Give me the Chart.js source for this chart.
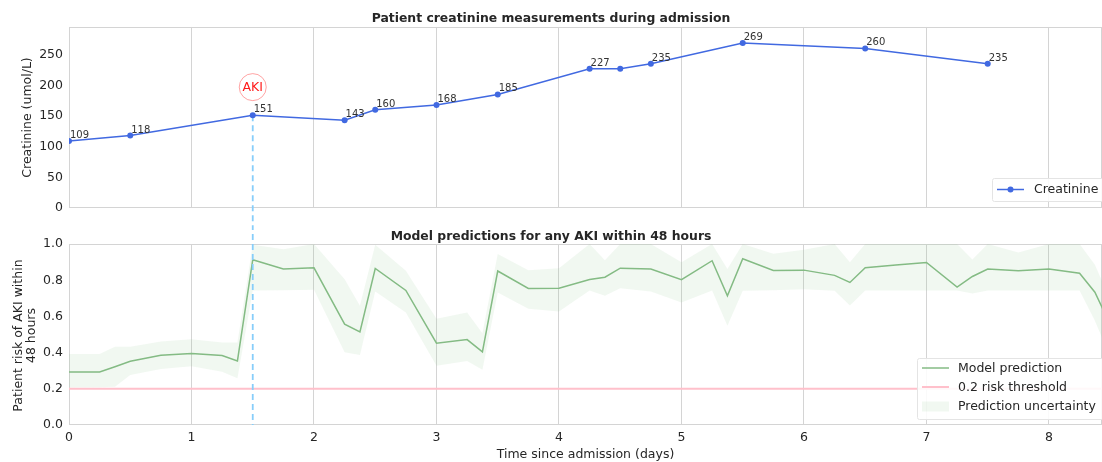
<!DOCTYPE html>
<html>
<head>
<meta charset="utf-8">
<title>Creatinine and AKI risk</title>
<script src="https://cdn.jsdelivr.net/npm/chart.js@4.4.1/dist/chart.umd.min.js"></script>
<style>
  html, body { margin: 0; padding: 0; background: #fff; }
  #wrap { position: relative; width: 1102px; height: 462px; overflow: hidden; }
  #top { position: absolute; left: 0; top: 0; }
  #bottom { position: absolute; left: 0; top: 226px; }
</style>
</head>
<body>
<div id="wrap">
  <canvas id="top" width="1102" height="226"></canvas>
  <canvas id="bottom" width="1102" height="236"></canvas>
</div>
<script>
// creatinine measurements, days since admission -> umol/L
const creatDays = [0, 0.5, 1.5, 2.25, 2.5, 3, 3.5, 4.25, 4.5, 4.75, 5.5, 6.5, 7.5];
const creatValues = [109, 118, 151, 143, 160, 168, 185, 227, 227, 235, 269, 260, 235];
const creatTicks = [0, 50, 100, 150, 200, 250];
const creatMax = 295;

// AKI onset marker
const akiDay = 1.5;
const akiValue = 151;
const akiLabelValue = 197;

// model output, every 3 hours
const predDays = [0, 0.25, 0.375, 0.5, 0.75, 1, 1.25, 1.375, 1.5, 1.75, 2, 2.25, 2.375, 2.5, 2.75, 3, 3.25, 3.375,
  3.5, 3.75, 4, 4.25, 4.375, 4.5, 4.75, 5, 5.25, 5.375, 5.5, 5.75, 6, 6.25, 6.375, 6.5, 6.75, 7, 7.25, 7.375,
  7.5, 7.75, 8, 8.25, 8.375, 8.5];
const predValues = [0.293, 0.293, 0.322, 0.352, 0.386, 0.395, 0.384, 0.354, 0.913, 0.862, 0.869, 0.557, 0.515, 0.865,
  0.744, 0.452, 0.472, 0.404, 0.851, 0.755, 0.756, 0.804, 0.817, 0.867, 0.862, 0.803, 0.908, 0.714, 0.919, 0.854,
  0.856, 0.827, 0.788, 0.869, 0.884, 0.898, 0.762, 0.821, 0.862, 0.852, 0.862, 0.839, 0.734, 0.555];
const predUpper = [0.393, 0.393, 0.432, 0.432, 0.461, 0.474, 0.456, 0.456, 0.996, 0.972, 1.0, 0.806, 0.659, 0.996,
  0.852, 0.587, 0.622, 0.507, 0.945, 0.856, 0.867, 1.0, 0.91, 1.0, 1.0, 0.90, 1.0, 0.862, 1.0, 0.946, 0.969, 1.0,
  0.90, 1.0, 1.0, 1.0, 1.0, 0.915, 1.0, 0.954, 1.0, 1.0, 0.886, 0.692];
const predLower = [0.207, 0.208, 0.212, 0.277, 0.310, 0.325, 0.295, 0.258, 0.744, 0.745, 0.747, 0.402, 0.387, 0.738,
  0.622, 0.327, 0.354, 0.306, 0.732, 0.642, 0.627, 0.744, 0.714, 0.756, 0.738, 0.677, 0.744, 0.548, 0.742, 0.745,
  0.751, 0.742, 0.66, 0.744, 0.744, 0.744, 0.744, 0.727, 0.744, 0.744, 0.744, 0.744, 0.576, 0.377];
const riskThreshold = 0.2;
const riskTicks = [0, 0.2, 0.4, 0.6, 0.8, 1.0];
const riskTitle = ['Patient risk of AKI within', '48 hours'];

const dayTicks = [0, 1, 2, 3, 4, 5, 6, 7, 8];
const dayMax = 8.433;

const TEXT = '#262626';
const GRID = '#d4d4d4';
const BLUE = '#4169e1';
const GREEN = '#84bb84';
const BAND = 'rgba(150,200,150,0.13)';
const PINK = '#ffc0cb';
const AKI_LINE = '#87cefa';
const FS = 12.5;
const AXIS_W = 69;

Chart.defaults.font.family = '"DejaVu Sans", sans-serif';
Chart.defaults.color = TEXT;

const pts = (xs, ys) => xs.map((x, i) => ({ x: x, y: ys[i] }));

function xScale(showLabels) {
  return {
    type: 'linear', min: 0, max: dayMax,
    afterBuildTicks: s => { s.ticks = dayTicks.map(v => ({ value: v })); },
    afterFit: s => { s.height = showLabels ? 37 : 18; },
    grid: { color: GRID, drawTicks: false },
    border: { display: false },
    ticks: { display: showLabels, padding: 5, font: { size: FS }, callback: v => String(v) },
    title: { display: showLabels, text: 'Time since admission (days)', font: { size: FS }, padding: 0 }
  };
}

function drawFrame(ctx, a) {
  ctx.save();
  ctx.strokeStyle = GRID;
  ctx.lineWidth = 1;
  const l = Math.round(a.left) + 0.5, t = Math.round(a.top) + 0.5;
  const r = Math.round(a.right) - 0.5, b = Math.round(a.bottom) - 0.5;
  ctx.strokeRect(l, t, r - l, b - t);
  ctx.restore();
}

function legendBox(ctx, left, top, w, h) {
  ctx.save();
  ctx.fillStyle = 'rgba(255,255,255,0.88)';
  ctx.strokeStyle = '#e4e4e4';
  ctx.lineWidth = 1;
  ctx.beginPath();
  ctx.roundRect(left + 0.5, top + 0.5, w, h, 2);
  ctx.fill();
  ctx.stroke();
  ctx.restore();
}

const topDecor = {
  id: 'topDecor',
  beforeDatasetsDraw(chart) {
    const { ctx, chartArea, scales } = chart;
    drawFrame(ctx, chartArea);
    const px = scales.x.getPixelForValue(akiDay);
    ctx.save();
    ctx.strokeStyle = AKI_LINE;
    ctx.lineWidth = 1.8;
    ctx.setLineDash([6, 4]);
    ctx.beginPath();
    ctx.moveTo(px, scales.y.getPixelForValue(akiValue));
    ctx.lineTo(px, chart.height);
    ctx.stroke();
    ctx.restore();
  },
  afterDatasetsDraw(chart) {
    const { ctx, scales } = chart;
    ctx.save();
    // value labels, skip repeats
    ctx.font = '10px "DejaVu Sans"';
    ctx.fillStyle = '#333';
    ctx.textAlign = 'left';
    ctx.textBaseline = 'alphabetic';
    creatValues.forEach((v, i) => {
      if (i > 0 && v === creatValues[i - 1]) return;
      ctx.fillText(String(v), scales.x.getPixelForValue(creatDays[i]) + 1, scales.y.getPixelForValue(v) - 3);
    });
    // AKI callout
    const cx = scales.x.getPixelForValue(akiDay), cy = scales.y.getPixelForValue(akiLabelValue);
    ctx.beginPath();
    ctx.arc(cx, cy, 13.5, 0, Math.PI * 2);
    ctx.fillStyle = '#fff';
    ctx.fill();
    ctx.strokeStyle = 'rgba(255,90,90,0.55)';
    ctx.lineWidth = 1;
    ctx.stroke();
    ctx.font = FS + 'px "DejaVu Sans"';
    ctx.fillStyle = '#ff1a1a';
    ctx.textAlign = 'center';
    ctx.textBaseline = 'middle';
    ctx.fillText('AKI', cx, cy + 0.5);
    ctx.restore();
  },
  afterDraw(chart) {
    const { ctx, chartArea: a } = chart;
    const left = chart.width - 110, top = a.bottom - 30, mid = top + 11.5;
    legendBox(ctx, left, top, 130, 23);
    ctx.save();
    ctx.strokeStyle = BLUE;
    ctx.lineWidth = 1.5;
    ctx.beginPath();
    ctx.moveTo(left + 5, mid);
    ctx.lineTo(left + 32, mid);
    ctx.stroke();
    ctx.fillStyle = BLUE;
    ctx.beginPath();
    ctx.arc(left + 18.5, mid, 3, 0, Math.PI * 2);
    ctx.fill();
    ctx.font = FS + 'px "DejaVu Sans"';
    ctx.fillStyle = TEXT;
    ctx.textBaseline = 'middle';
    ctx.fillText(chart.data.datasets[0].label, left + 42, mid + 0.5);
    ctx.restore();
  }
};

const bottomDecor = {
  id: 'bottomDecor',
  beforeDatasetsDraw(chart) {
    drawFrame(chart.ctx, chart.chartArea);
  },
  afterDatasetsDraw(chart) {
    const { ctx, chartArea: a, scales } = chart;
    const px = scales.x.getPixelForValue(akiDay);
    ctx.save();
    ctx.strokeStyle = AKI_LINE;
    ctx.lineWidth = 1.8;
    ctx.setLineDash([6, 4]);
    ctx.lineDashOffset = 2;
    ctx.beginPath();
    ctx.moveTo(px, 0);
    ctx.lineTo(px, a.bottom);
    ctx.stroke();
    ctx.restore();
  },
  afterDraw(chart) {
    const { ctx, chartArea: a } = chart;
    const ds = chart.data.datasets;
    // y axis title, two centred lines
    ctx.save();
    ctx.font = FS + 'px "DejaVu Sans"';
    ctx.fillStyle = TEXT;
    ctx.textAlign = 'center';
    ctx.textBaseline = 'middle';
    riskTitle.forEach((line, i) => {
      ctx.save();
      ctx.translate(18.5 + i * 13.2, (a.top + a.bottom) / 2 + 1);
      ctx.rotate(-Math.PI / 2);
      ctx.fillText(line, 0, 0);
      ctx.restore();
    });
    ctx.restore();

    const left = chart.width - 185, top = a.bottom - 67;
    legendBox(ctx, left, top, 200, 61);
    ctx.save();
    ctx.font = FS + 'px "DejaVu Sans"';
    ctx.textBaseline = 'middle';
    const rows = [
      { ds: ds[3], y: top + 10, kind: 'line' },
      { ds: ds[2], y: top + 29, kind: 'line' },
      { ds: ds[1], y: top + 48.5, kind: 'patch' }
    ];
    rows.forEach(r => {
      if (r.kind === 'line') {
        ctx.strokeStyle = r.ds.borderColor;
        ctx.lineWidth = r.ds.borderWidth;
        ctx.beginPath();
        ctx.moveTo(left + 5, r.y);
        ctx.lineTo(left + 32, r.y);
        ctx.stroke();
      } else {
        ctx.fillStyle = r.ds.backgroundColor;
        ctx.fillRect(left + 5, r.y - 5, 27, 10);
      }
      ctx.fillStyle = TEXT;
      ctx.fillText(r.ds.label, left + 41, r.y + 0.5);
    });
    ctx.restore();
  }
};

new Chart(document.getElementById('top'), {
  type: 'line',
  data: {
    datasets: [{
      label: 'Creatinine',
      data: pts(creatDays, creatValues),
      borderColor: BLUE,
      backgroundColor: BLUE,
      borderWidth: 1.5,
      pointRadius: 3,
      pointBorderWidth: 0,
      clip: 0
    }]
  },
  options: {
    responsive: false,
    animation: false,
    devicePixelRatio: 1,
    layout: { padding: 0, autoPadding: false },
    plugins: {
      legend: { display: false },
      tooltip: { enabled: false },
      title: {
        display: true, text: 'Patient creatinine measurements during admission',
        color: TEXT, font: { size: 12.4, weight: 'bold' }, padding: { top: 11, bottom: 1.1 }
      }
    },
    scales: {
      x: xScale(false),
      y: {
        min: 0, max: creatMax,
        afterBuildTicks: s => { s.ticks = creatTicks.map(v => ({ value: v })); },
        afterFit: s => { s.width = AXIS_W; },
        grid: { display: false, drawTicks: false },
        border: { display: false },
        ticks: { padding: 6, font: { size: FS }, callback: v => String(v) },
        title: { display: true, text: 'Creatinine (umol/L)', font: { size: FS }, padding: { top: 20.5, bottom: 0 } }
      }
    }
  },
  plugins: [topDecor]
});

new Chart(document.getElementById('bottom'), {
  type: 'line',
  data: {
    datasets: [
      { label: 'Lower bound', data: pts(predDays, predLower), borderColor: 'rgba(0,0,0,0)', borderWidth: 0,
        pointRadius: 0, fill: false, order: 3, clip: 0 },
      { label: 'Prediction uncertainty', data: pts(predDays, predUpper), borderColor: 'rgba(0,0,0,0)', borderWidth: 0,
        backgroundColor: BAND, pointRadius: 0, fill: '-1', order: 2, clip: 0 },
      { label: riskThreshold + ' risk threshold', data: pts([0, dayMax], [riskThreshold, riskThreshold]),
        borderColor: PINK, borderWidth: 2, pointRadius: 0, order: 1, clip: 0 },
      { label: 'Model prediction', data: pts(predDays, predValues), borderColor: GREEN, borderWidth: 1.5,
        pointRadius: 0, order: 0, clip: 0 }
    ]
  },
  options: {
    responsive: false,
    animation: false,
    devicePixelRatio: 1,
    layout: { padding: 0, autoPadding: false },
    plugins: {
      legend: { display: false },
      tooltip: { enabled: false },
      title: {
        display: true, text: 'Model predictions for any AKI within 48 hours',
        color: TEXT, font: { size: 12.4, weight: 'bold' }, padding: { top: 3.2, bottom: 0 }
      }
    },
    scales: {
      x: xScale(true),
      y: {
        min: 0, max: 1,
        afterBuildTicks: s => { s.ticks = riskTicks.map(v => ({ value: v })); },
        afterFit: s => { s.width = AXIS_W; },
        grid: { display: false, drawTicks: false },
        border: { display: false },
        ticks: { padding: 6, font: { size: FS }, callback: v => v.toFixed(1) },
        title: { display: false }
      }
    }
  },
  plugins: [bottomDecor]
});
</script>
</body>
</html>
